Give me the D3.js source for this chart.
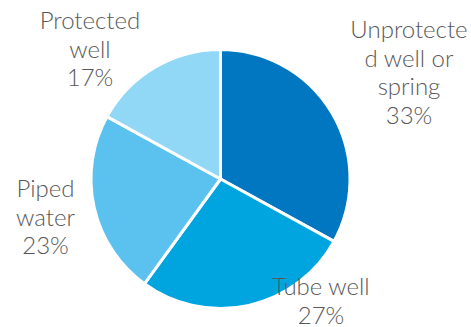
<!DOCTYPE html>
<html>
<head>
<meta charset="utf-8">
<script src="https://cdn.jsdelivr.net/npm/d3@7"></script>
<style>
  html, body { margin: 0; padding: 0; background: #fff; }
  svg { display: block; }
  text { font-family: Lato, "Open Sans", sans-serif; font-weight: 300; fill: #595959; }
</style>
</head>
<body>
<svg id="chart" width="471" height="327"></svg>
<script>
// Main source of drinking water
const categories = ["Unprotected well or spring", "Tube well", "Piped water", "Protected well"];
const values = [33, 27, 23, 17];
const labelLines = [
  ["Unprotecte", "d well or", "spring"],
  ["Tube well"],
  ["Piped", "water"],
  ["Protected", "well"]
];
const colors = ["#0077C0", "#00A5E0", "#5BC1EE", "#91D8F7"];

const width = 471, height = 327;
const cx = 220.5, cy = 179, radius = 129.5;
const fontSize = 24, lineHeight = 28.7;

// label anchor: horizontal centre and first baseline, relative to the pie centre
const labelAnchor = [
  { x: 188.5, y: -141 },
  { x: 100.5, y: 116 },
  { x: -175, y: 18 },
  { x: -130.5, y: -150 }
];

const svg = d3.select("#chart");
const g = svg.append("g").attr("transform", `translate(${cx},${cy})`);

const data = categories.map((c, i) => ({ category: c, value: values[i], lines: labelLines[i], idx: i }));

const pie = d3.pie().value(d => d.value).sort(null);
const arc = d3.arc().innerRadius(0).outerRadius(radius);

g.selectAll("path.slice")
  .data(pie(data))
  .join("path")
  .attr("class", "slice")
  .attr("d", arc)
  .attr("fill", d => colors[d.data.idx])
  .attr("stroke", "#fff")
  .attr("stroke-width", 3)
  .attr("stroke-linejoin", "round");

const labels = g.selectAll("text.label")
  .data(data)
  .join("text")
  .attr("class", "label")
  .attr("text-anchor", "middle")
  .attr("font-size", fontSize)
  .attr("transform", d => {
    const a = labelAnchor[d.idx];
    return `translate(${a.x},${a.y})`;
  });

labels.each(function(d) {
  const t = d3.select(this);
  const lines = d.lines.concat([d.value + "%"]);
  lines.forEach((ln, i) => {
    t.append("tspan").attr("x", 0).attr("y", i * lineHeight).text(ln);
  });
});
</script>
</body>
</html>
